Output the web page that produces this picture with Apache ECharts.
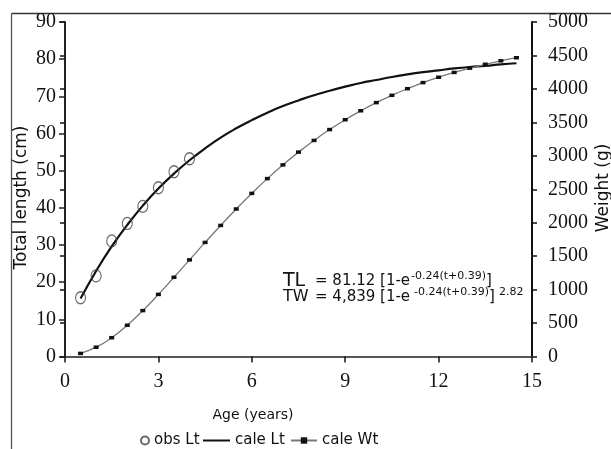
<!DOCTYPE html>
<html>
<head>
<meta charset="utf-8">
<script src="https://cdn.jsdelivr.net/npm/echarts@6/dist/echarts.min.js"></script>
<style>
html,body{margin:0;padding:0;background:#fff;}
#chart{width:611px;height:449px;}
</style>
</head>
<body>
<div id="chart"></div>
<script>
// ---- data ----
var obsAges = [0.5, 1, 1.5, 2, 2.5, 3, 3.5, 4];
var obsLt = [15.8, 21.7, 31.1, 35.8, 40.4, 45.4, 49.7, 53.2];
var calcAges = [0.5, 1, 1.5, 2, 2.5, 3, 3.5, 4, 4.5, 5, 5.5, 6, 6.5, 7, 7.5, 8, 8.5, 9, 9.5, 10, 10.5, 11, 11.5, 12, 12.5, 13, 13.5, 14, 14.5];
var calcLt = [15.6, 23.0, 29.6, 35.4, 40.6, 45.2, 49.2, 52.8, 56.0, 58.9, 61.4, 63.6, 65.6, 67.4, 68.9, 70.3, 71.5, 72.6, 73.6, 74.4, 75.2, 75.9, 76.5, 77.0, 77.5, 77.9, 78.2, 78.6, 78.9];
var calcWt = [46, 139, 281, 467, 686, 928, 1184, 1444, 1705, 1959, 2205, 2438, 2659, 2864, 3055, 3230, 3392, 3539, 3673, 3795, 3904, 4003, 4094, 4174, 4246, 4310, 4368, 4420, 4466];
var seriesNames = ['obs Lt', 'cale Lt', 'cale Wt'];
var xTitle = 'Age (years)';
var yLeftTitle = 'Total length (cm)';
var yRightTitle = 'Weight (g)';

function pairs(xs, ys) { return xs.map(function (x, i) { return [x, ys[i]]; }); }

var serif = 'Liberation Serif';
var sans = 'DejaVu Sans';
var tickLabel = { fontFamily: serif, fontSize: 20, color: '#111', formatter: function (v) { return String(v); } };

var chart = echarts.init(document.getElementById('chart'), null, { renderer: 'canvas' });
chart.setOption({
  animation: false,
  backgroundColor: '#fff',
  grid: { left: 65, top: 22, width: 467, height: 334.5, containLabel: false },
  xAxis: [
    {
      type: 'value', min: 0, max: 15, interval: 3, position: 'bottom',
      axisLine: { show: true, onZero: false, lineStyle: { color: '#111', width: 2 } },
      axisTick: { show: true, inside: false, length: 6, lineStyle: { color: '#111', width: 1.5 } },
      axisLabel: Object.assign({ margin: 15 }, tickLabel),
      splitLine: { show: false }
    },
    {
      type: 'value', min: 0, max: 15, position: 'top',
      axisLine: { show: true, lineStyle: { color: '#555', width: 2 } },
      axisTick: { show: false }, axisLabel: { show: false }, splitLine: { show: false }
    }
  ],
  yAxis: [
    {
      type: 'value', min: 0, max: 90, interval: 10, position: 'left',
      axisLine: { show: true, onZero: false, lineStyle: { color: '#222', width: 2 } },
      axisTick: { show: true, inside: false, length: 6, lineStyle: { color: '#222', width: 1.5 } },
      axisLabel: Object.assign({ margin: 9 }, tickLabel),
      splitLine: { show: false }
    },
    {
      type: 'value', min: 0, max: 5000, interval: 500, position: 'right',
      axisLine: { show: true, onZero: false, lineStyle: { color: '#111', width: 2 } },
      axisTick: { show: true, inside: false, length: 5, lineStyle: { color: '#111', width: 1.5 } },
      axisLabel: Object.assign({ margin: 16 }, tickLabel),
      splitLine: { show: false }
    },
    {
      type: 'value', min: 0, max: 5000, interval: 500, position: 'right',
      axisLine: { show: false },
      axisTick: { show: true, inside: true, length: 5, lineStyle: { color: '#111', width: 1.5 } },
      axisLabel: { show: false }, splitLine: { show: false }
    }
  ],
  legend: [
    {
      data: [seriesNames[0]], left: 140, top: 433, padding: 0, itemWidth: 8, itemHeight: 8,
      textStyle: { fontFamily: sans, fontSize: 15, color: '#111' }
    },
    {
      data: [{ name: seriesNames[1], icon: 'rect' }], left: 203, top: 433, padding: 0, itemWidth: 27, itemHeight: 2,
      textStyle: { fontFamily: sans, fontSize: 15, color: '#111' }
    },
    {
      data: [seriesNames[2]], left: 290, top: 433, padding: 0, itemWidth: 26, itemHeight: 8,
      textStyle: { fontFamily: sans, fontSize: 15, color: '#111' }
    }
  ],
  series: [
    {
      name: seriesNames[1], type: 'line', xAxisIndex: 0, yAxisIndex: 0,
      data: pairs(calcAges, calcLt), smooth: true, symbol: 'none', showSymbol: false,
      lineStyle: { color: '#111', width: 2.2 }, itemStyle: { color: '#111' }, z: 3
    },
    {
      name: seriesNames[0], type: 'scatter', xAxisIndex: 0, yAxisIndex: 0,
      data: pairs(obsAges, obsLt), symbol: 'circle', symbolSize: [10, 12],
      itemStyle: { color: 'rgba(0,0,0,0)', borderColor: '#444', borderWidth: 1.2 }, z: 4
    },
    {
      name: seriesNames[2], type: 'line', xAxisIndex: 0, yAxisIndex: 1,
      data: pairs(calcAges, calcWt), smooth: true, symbol: 'rect', symbolSize: [5, 3.5], showSymbol: true,
      lineStyle: { color: '#777', width: 1.3 }, itemStyle: { color: '#111' }, z: 3
    }
  ],
  graphic: [
    { type: 'line', shape: { x1: 11.5, y1: 13.5, x2: 611, y2: 13.5 }, style: { stroke: '#333', lineWidth: 1.3 } },
    { type: 'line', shape: { x1: 11.5, y1: 13.5, x2: 11.5, y2: 449 }, style: { stroke: '#555', lineWidth: 1.3 } },
    { type: 'text', x: 21.5, y: 197.5, rotation: Math.PI / 2,
      style: { text: yLeftTitle, font: '17px ' + sans, fill: '#111', align: 'center', verticalAlign: 'middle' } },
    { type: 'text', x: 603.5, y: 188, rotation: Math.PI / 2,
      style: { text: yRightTitle, font: '17px ' + sans, fill: '#111', align: 'center', verticalAlign: 'middle' } },
    { type: 'text', x: 253, y: 415,
      style: { text: xTitle, font: '14px ' + sans, fill: '#111', align: 'center', verticalAlign: 'middle' } },
    // equations
    { type: 'text', x: 283, y: 281.5, style: { text: 'TL', font: '19px ' + sans, fill: '#111', align: 'left', verticalAlign: 'middle' } },
    { type: 'text', x: 315, y: 281.5, style: { text: '= 81.12 [1-e', font: '15px ' + sans, fill: '#111', align: 'left', verticalAlign: 'middle' } },
    { type: 'text', x: 411, y: 276.5, style: { text: '-0.24(t+0.39)', font: '11px ' + sans, fill: '#111', align: 'left', verticalAlign: 'middle' } },
    { type: 'text', x: 486, y: 281.5, style: { text: ']', font: '15px ' + sans, fill: '#111', align: 'left', verticalAlign: 'middle' } },
    { type: 'text', x: 283, y: 296.5, style: { text: 'TW', font: '16px ' + sans, fill: '#111', align: 'left', verticalAlign: 'middle' } },
    { type: 'text', x: 315, y: 297, style: { text: '= 4,839 [1-e', font: '15px ' + sans, fill: '#111', align: 'left', verticalAlign: 'middle' } },
    { type: 'text', x: 414, y: 292, style: { text: '-0.24(t+0.39)', font: '11px ' + sans, fill: '#111', align: 'left', verticalAlign: 'middle' } },
    { type: 'text', x: 489, y: 297, style: { text: ']', font: '15px ' + sans, fill: '#111', align: 'left', verticalAlign: 'middle' } },
    { type: 'text', x: 499, y: 292, style: { text: '2.82', font: '11px ' + sans, fill: '#111', align: 'left', verticalAlign: 'middle' } }
  ]
});
</script>
</body>
</html>
